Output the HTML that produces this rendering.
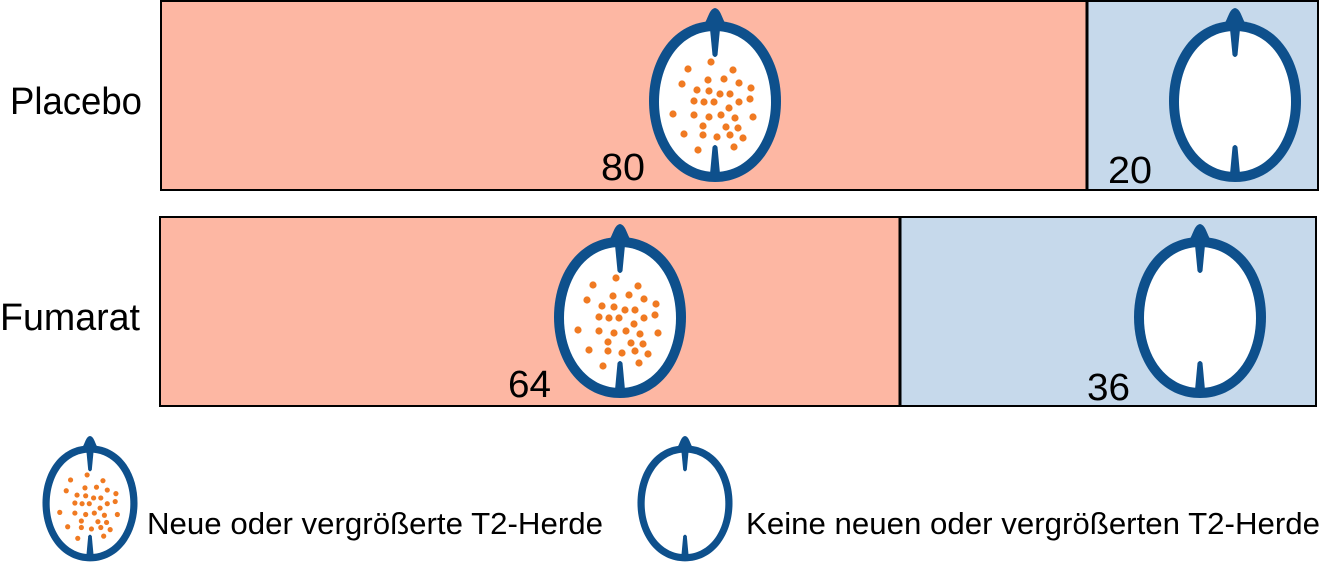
<!DOCTYPE html>
<html><head><meta charset="utf-8"><style>html,body{margin:0;padding:0;background:#fff}svg{display:block}</style></head>
<body>
<svg width="1321" height="568" viewBox="0 0 1321 568" xmlns="http://www.w3.org/2000/svg" font-family="Liberation Sans, sans-serif">
<defs>
<g id="brain">
<path d="M-14,-74 C-7,-78 -7,-92 0,-93 C7,-92 7,-78 14,-74 Z" fill="#0e508c"/>
<path d="M0,-80 C42,-80 66,-42 66,0 C66,44 40,81 0,81 C-40,81 -66,44 -66,0 C-66,-42 -42,-80 0,-80 Z" fill="#0e508c"/>
<path d="M0,-70 C35,-70 56,-37 56,1 C56,40 33,71 0,71 C-33,71 -56,40 -56,1 C-56,-37 -35,-70 0,-70 Z" fill="#fff"/>
<path d="M-5,-72 L5,-72 L2.5,-46 Q0,-42 -2.5,-46 Z" fill="#0e508c"/>
<path d="M-5,73 L5,73 L2.5,46 Q0,42 -2.5,46 Z" fill="#0e508c"/>
</g>
<g id="dots" fill="#f07a22">
<circle cx="-4" cy="-39" r="3.6"/><circle cx="-27" cy="-32" r="3.6"/><circle cx="18" cy="-31" r="3.6"/><circle cx="-33" cy="-17" r="3.6"/><circle cx="-7" cy="-21" r="3.6"/><circle cx="9" cy="-22" r="3.6"/><circle cx="24" cy="-18" r="3.6"/><circle cx="36" cy="-13" r="3.6"/><circle cx="-18" cy="-11" r="3.6"/><circle cx="-6" cy="-10" r="3.6"/><circle cx="5" cy="-7" r="3.6"/><circle cx="15" cy="-7" r="3.6"/><circle cx="35" cy="-2" r="3.6"/><circle cx="-21" cy="0" r="3.6"/><circle cx="-11" cy="1" r="3.6"/><circle cx="-1" cy="1" r="3.6"/><circle cx="24" cy="1" r="3.6"/><circle cx="14" cy="7" r="3.6"/><circle cx="-42" cy="13" r="3.6"/><circle cx="-21" cy="14" r="3.6"/><circle cx="-6" cy="16" r="3.6"/><circle cx="6" cy="14" r="3.6"/><circle cx="20" cy="17" r="3.6"/><circle cx="38" cy="16" r="3.6"/><circle cx="-12" cy="25" r="3.6"/><circle cx="11" cy="26" r="3.6"/><circle cx="23" cy="27" r="3.6"/><circle cx="-31" cy="33" r="3.6"/><circle cx="-12" cy="34" r="3.6"/><circle cx="2" cy="36" r="3.6"/><circle cx="15" cy="34" r="3.6"/><circle cx="28" cy="37" r="3.6"/><circle cx="-17" cy="49" r="3.6"/><circle cx="19" cy="46" r="3.6"/>
</g>
</defs>
<rect x="161" y="1" width="926" height="189" fill="#fdb7a3"/>
<rect x="1087" y="1" width="231" height="189" fill="#c6d9eb"/>
<rect x="161" y="1" width="1157" height="189" fill="none" stroke="#000" stroke-width="2"/>
<line x1="1087" y1="1" x2="1087" y2="190" stroke="#000" stroke-width="3"/>
<rect x="160" y="217" width="740" height="189" fill="#fdb7a3"/>
<rect x="900" y="217" width="416" height="189" fill="#c6d9eb"/>
<rect x="160" y="217" width="1156" height="189" fill="none" stroke="#000" stroke-width="2"/>
<line x1="900" y1="217" x2="900" y2="406" stroke="#000" stroke-width="3"/>

<use href="#brain" transform="translate(715,101)"/><use href="#dots" transform="translate(715,101)"/>
<use href="#brain" transform="translate(1235,101)"/>
<use href="#brain" transform="translate(620,317)"/><use href="#dots" transform="translate(620,317)"/>
<use href="#brain" transform="translate(1200,317)"/>
<use href="#brain" transform="translate(90,503) scale(0.72)"/><use href="#dots" transform="translate(90,503) scale(0.72)"/>
<use href="#brain" transform="translate(685,503) scale(0.72)"/>

<g font-size="38" fill="#000">
<text x="10" y="114" textLength="132" lengthAdjust="spacingAndGlyphs">Placebo</text>
<text x="0" y="330" textLength="140" lengthAdjust="spacingAndGlyphs">Fumarat</text>
<text x="601" y="180" textLength="44" lengthAdjust="spacingAndGlyphs">80</text>
<text x="1108" y="183" textLength="44" lengthAdjust="spacingAndGlyphs">20</text>
<text x="508" y="397" textLength="43" lengthAdjust="spacingAndGlyphs">64</text>
<text x="1087" y="400" textLength="43" lengthAdjust="spacingAndGlyphs">36</text>
</g>
<g font-size="31" fill="#000">
<text x="147" y="534" textLength="456" lengthAdjust="spacingAndGlyphs">Neue oder vergrößerte T2-Herde</text>
<text x="746" y="534" textLength="574" lengthAdjust="spacingAndGlyphs">Keine neuen oder vergrößerten T2-Herde</text>
</g>
</svg>
</body></html>
